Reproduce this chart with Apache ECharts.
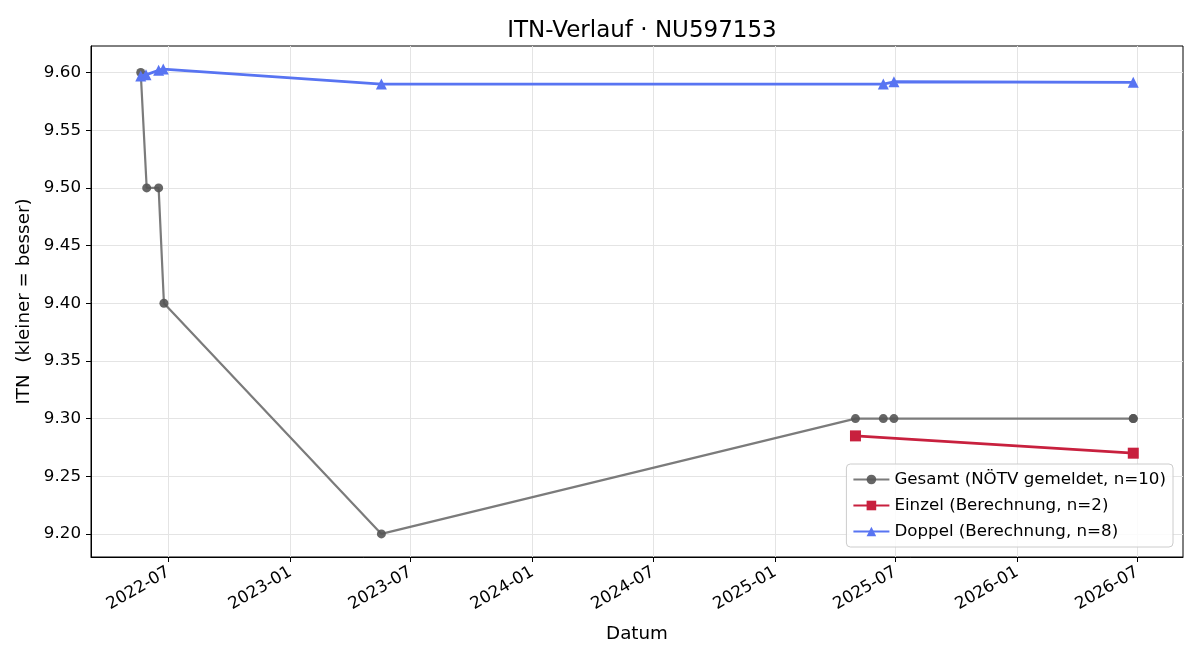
<!DOCTYPE html>
<html>
<head>
<meta charset="utf-8">
<script src="https://cdn.jsdelivr.net/npm/echarts@6/dist/echarts.min.js"></script>
<style>
  html, body { margin: 0; padding: 0; background: #fff; }
  #chart { width: 1200px; height: 660px; }
</style>
</head>
<body>
<div id="chart"></div>
<script>
// data
var gesamtDates = ['2022-05-20', '2022-05-29', '2022-06-16', '2022-06-24', '2023-05-18',
                   '2025-05-02', '2025-06-13', '2025-06-29', '2026-06-25', '2026-06-25'];
var gesamtValues = [9.60, 9.50, 9.50, 9.40, 9.20, 9.30, 9.30, 9.30, 9.30, 9.30];

var einzelDates = ['2025-05-02', '2026-06-25'];
var einzelValues = [9.285, 9.270];

var doppelDates = ['2022-05-20', '2022-05-28', '2022-06-16', '2022-06-23', '2023-05-18',
                   '2025-06-13', '2025-06-29', '2026-06-25'];
var doppelValues = [9.597, 9.598, 9.602, 9.603, 9.590, 9.590, 9.592, 9.5915];

var xTickLabels = ['2022-07', '2023-01', '2023-07', '2024-01', '2024-07',
                   '2025-01', '2025-07', '2026-01', '2026-07'];
var yTickLabels = ['9.20', '9.25', '9.30', '9.35', '9.40', '9.45', '9.50', '9.55', '9.60'];

var FONT = 'DejaVu Sans';

// dates as UTC timestamps, x axis is a plain value axis over them
function toTime(s) {
    var p = s.split('-');
    return Date.UTC(+p[0], +p[1] - 1, p[2] ? +p[2] : 1);
}

function pairs(dates, values) {
    var out = [];
    for (var i = 0; i < dates.length; i++) {
        out.push([toTime(dates[i]), values[i]]);
    }
    return out;
}

var xTickValues = xTickLabels.map(toTime);
var yTickValues = yTickLabels.map(Number);

var chart = echarts.init(document.getElementById('chart'));

var option = {
    animation: false,
    backgroundColor: '#fff',
    textStyle: { fontFamily: FONT, color: '#000' },
    title: {
        text: 'ITN-Verlauf · NU597153',
        left: 637,
        top: 15,
        textAlign: 'center',
        textStyle: { fontFamily: FONT, fontSize: 23, fontWeight: 'normal', color: '#000' }
    },
    grid: {
        left: 91,
        right: 17,
        top: 46,
        bottom: 103,
        show: true,
        borderColor: '#000',
        borderWidth: 1,
        containLabel: false
    },
    legend: {
        orient: 'vertical',
        right: 27,
        bottom: 113,
        itemWidth: 36,
        itemHeight: 12,
        itemGap: 9,
        padding: [7, 7, 7, 6],
        backgroundColor: 'rgba(255,255,255,0.85)',
        borderColor: '#cccccc',
        borderWidth: 1,
        borderRadius: 4,
        textStyle: { fontFamily: FONT, fontSize: 16.7, color: '#000' },
        data: ['Gesamt (NÖTV gemeldet, n=10)', 'Einzel (Berechnung, n=2)', 'Doppel (Berechnung, n=8)']
    },
    xAxis: {
        type: 'value',
        min: toTime('2022-03-06'),
        max: toTime('2026-09-08'),
        name: 'Datum',
        nameLocation: 'middle',
        nameGap: 68,
        nameTextStyle: { fontFamily: FONT, fontSize: 18.3, color: '#000' },
        axisLine: { show: true, lineStyle: { color: '#000', width: 1 } },
        axisTick: { show: true, length: 5, lineStyle: { color: '#000' }, customValues: xTickValues },
        axisLabel: {
            customValues: xTickValues,
            rotate: 30,
            margin: 14,
            fontFamily: FONT,
            fontSize: 16.7,
            color: '#000',
            showMinLabel: true,
            showMaxLabel: true,
            formatter: function (v) {
                var i = xTickValues.indexOf(v);
                return i >= 0 ? xTickLabels[i] : '';
            }
        },
        splitLine: { show: true, lineStyle: { color: '#e4e4e4', width: 1 } }
    },
    yAxis: {
        type: 'value',
        min: 9.18,
        max: 9.623,
        name: 'ITN  (kleiner = besser)',
        nameLocation: 'middle',
        nameGap: 55,
        nameTextStyle: { fontFamily: FONT, fontSize: 18.3, color: '#000' },
        axisLine: { show: true, lineStyle: { color: '#000', width: 1 } },
        axisTick: { show: true, length: 5, lineStyle: { color: '#000' }, customValues: yTickValues },
        axisLabel: {
            customValues: yTickValues,
            margin: 10,
            fontFamily: FONT,
            fontSize: 16.7,
            color: '#000',
            formatter: function (v) { return v.toFixed(2); }
        },
        splitLine: { show: true, lineStyle: { color: '#e4e4e4', width: 1 } }
    },
    series: [
        {
            name: 'Gesamt (NÖTV gemeldet, n=10)',
            type: 'line',
            data: pairs(gesamtDates, gesamtValues),
            symbol: 'circle',
            symbolSize: 9,
            showAllSymbol: true,
            lineStyle: { color: '#7b7b7b', width: 2.2 },
            itemStyle: { color: '#555555', opacity: 0.9 },
            z: 2
        },
        {
            name: 'Einzel (Berechnung, n=2)',
            type: 'line',
            data: pairs(einzelDates, einzelValues),
            symbol: 'rect',
            symbolSize: 11,
            showAllSymbol: true,
            lineStyle: { color: '#c8203e', width: 2.8 },
            itemStyle: { color: '#c8203e' },
            z: 3
        },
        {
            name: 'Doppel (Berechnung, n=8)',
            type: 'line',
            data: pairs(doppelDates, doppelValues),
            symbol: 'triangle',
            symbolSize: 11,
            showAllSymbol: true,
            lineStyle: { color: '#5874f2', width: 2.8 },
            itemStyle: { color: '#5874f2' },
            z: 4
        }
    ]
};

chart.setOption(option);
</script>
</body>
</html>
